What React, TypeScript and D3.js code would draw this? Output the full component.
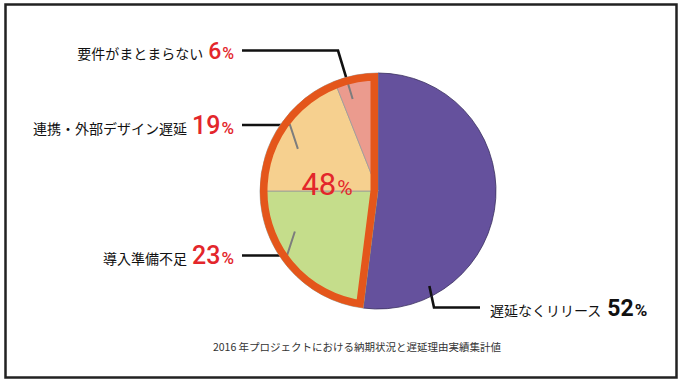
import React from 'react';
import * as d3 from 'd3';

const categories = ['遅延なくリリース', '導入準備不足', '連携・外部デザイン遅延', '要件がまとまらない'];
const values = [52, 23, 19, 6];
const sliceColors = ['#65519d', '#c5dd8b', '#f6d08f', '#eb9b8e'];
const numberColors = ['#111111', '#e3262b', '#e3262b', '#e3262b'];
const groupLabel = '48';
const caption = '2016 年プロジェクトにおける納期状況と遅延理由実績集計値';

// leader-line annotation layout (per category)
const leaderAngleDeg = [151.6, 244, 297.7, 344.6];
const leaderRadius = [108, 92.5, 90.5, 95.5];
const leaderY = [307.5, 255.5, 125, 50.5];
const leaderElbowX = [434, 287, 290, 338];
const leaderEndX = [480, 242, 242, 242];
const numberSize = [23, 25, 25, 23];
const percentSize = [17, 17, 17, 16];

const W = 680;
const H = 381;
const cx = 378;
const cy = 191;
const R = 118;

export default function App() {
  const pie = d3.pie<number>().sort(null).startAngle(0).endAngle(2 * Math.PI)(values);
  const arc = d3.arc<any>().innerRadius(0).outerRadius(R);
  const groupPath = arc({ startAngle: pie[1].startAngle, endAngle: 2 * Math.PI }) as string;

  const leaders = values.map((_, i) => {
    const a = (leaderAngleDeg[i] * Math.PI) / 180;
    const ix = cx + Math.sin(a) * leaderRadius[i];
    const iy = cy - Math.cos(a) * leaderRadius[i];
    const pts: [number, number][] = [
      [leaderEndX[i], leaderY[i]],
      [leaderElbowX[i], leaderY[i]],
      [ix, iy],
    ];
    return d3.line()(pts) as string;
  });

  const numFont = 'Roboto, "Noto Sans", sans-serif';
  const jpFont = '"Noto Sans CJK JP", sans-serif';

  return (
    <svg width={W} height={H} style={{ position: 'absolute', left: 0, top: 0, background: '#fff' }}>
      <defs>
        <clipPath id="pieClip">
          <circle cx={cx} cy={cy} r={R} />
        </clipPath>
        <clipPath id="groupClip">
          <path d={groupPath} transform={`translate(${cx},${cy})`} />
        </clipPath>
      </defs>
      <rect x={5.5} y={4.5} width={671} height={373} fill="#fff" stroke="#222" strokeWidth={2.5} />

      {/* black leader lines */}
      {leaders.map((d, i) => (
        <path key={'lb' + i} d={d} fill="none" stroke="#111" strokeWidth={2.6} />
      ))}

      {/* slices */}
      <g transform={`translate(${cx},${cy})`}>
        {pie.map((p, i) => (
          <path
            key={'s' + i}
            d={arc(p) as string}
            fill={sliceColors[i]}
            stroke={i === 0 ? '#3b3160' : '#9a9a9a'}
            strokeWidth={0.8}
          />
        ))}
      </g>

      {/* inner leader parts */}
      <g clipPath="url(#pieClip)">
        {leaders.map((d, i) => (
          <path
            key={'lg' + i}
            d={d}
            fill="none"
            stroke={i === 0 ? '#111' : '#7d7d7d'}
            strokeWidth={i === 0 ? 2.6 : 2}
          />
        ))}
      </g>

      {/* highlighted group outline */}
      <g clipPath="url(#groupClip)">
        <path d={groupPath} transform={`translate(${cx},${cy})`} fill="none" stroke="#e4561b" strokeWidth={15} strokeLinejoin="miter" />
      </g>

      {/* group percentage */}
      <text x={327} y={195} textAnchor="middle" fill="#e3262b" fontFamily={numFont}>
        <tspan fontSize={31}>{groupLabel}</tspan>
        <tspan fontSize={21} dx={1}>%</tspan>
      </text>

      {/* labels */}
      {categories.map((c, i) => {
        const right = i === 0;
        return (
          <text
            key={'t' + i}
            x={right ? 490 : 234}
            y={leaderY[i] + 8.5}
            textAnchor={right ? 'start' : 'end'}
            fill="#111"
          >
            <tspan fontFamily={jpFont} fontSize={14}>{c}</tspan>
            <tspan
              fontFamily={numFont}
              fontSize={numberSize[i]}
              fontWeight={right ? 700 : 500}
              fill={numberColors[i]}
              dx={right ? 6 : 5}
            >
              {values[i]}
            </tspan>
            <tspan
              fontFamily={numFont}
              fontSize={percentSize[i]}
              fontWeight={right ? 700 : 500}
              fill={numberColors[i]}
              dx={1}
            >
              %
            </tspan>
          </text>
        );
      })}

      <text x={357} y={351} textAnchor="middle" fontFamily={jpFont} fontSize={10.5} fill="#333">
        {caption}
      </text>
    </svg>
  );
}
